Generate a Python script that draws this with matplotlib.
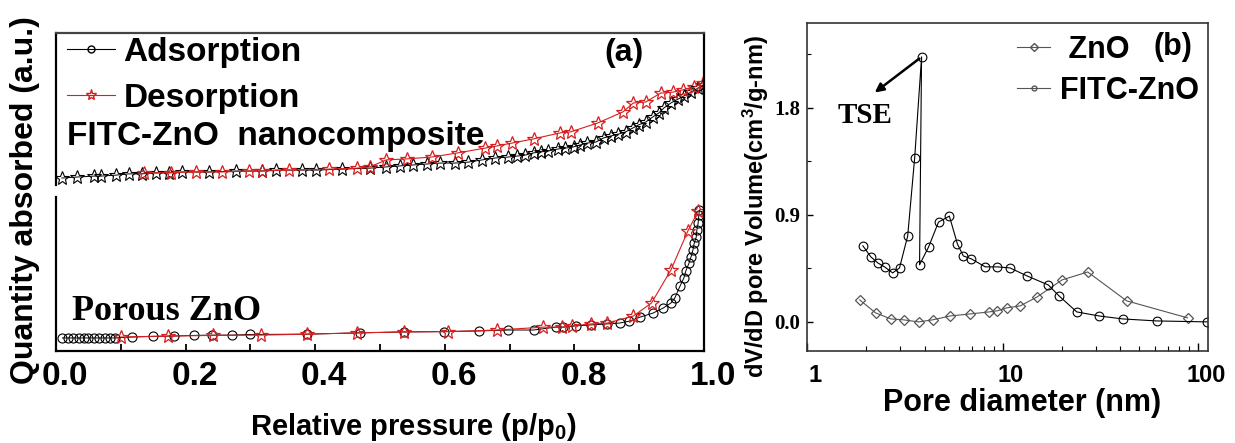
import matplotlib
matplotlib.use('Agg')
import matplotlib.pyplot as plt
from matplotlib.lines import Line2D
import matplotlib.transforms as mtransforms
from matplotlib.ticker import FixedLocator, NullFormatter

plt.rcParams['font.family'] = ['Liberation Sans', 'DejaVu Sans']
plt.rcParams['mathtext.fontset'] = 'custom'
plt.rcParams['mathtext.rm'] = 'Liberation Sans:bold'
plt.rcParams['mathtext.it'] = 'Liberation Sans:bold'
plt.rcParams['mathtext.bf'] = 'Liberation Sans:bold'

# ---------------- panel (a) data: isotherms (a.u.) ----------------
zno_ads_x = [0.010, 0.018, 0.027, 0.035, 0.043, 0.050, 0.058, 0.066, 0.075, 0.083, 0.091,
             0.117, 0.150, 0.182, 0.213, 0.241, 0.272, 0.300, 0.388, 0.469, 0.537, 0.599,
             0.653, 0.698, 0.737, 0.771, 0.783, 0.802, 0.825, 0.850, 0.870, 0.885, 0.902,
             0.921, 0.937, 0.949, 0.955, 0.963, 0.969, 0.972, 0.977, 0.980, 0.983, 0.985,
             0.988, 0.989, 0.991, 0.992, 0.993]
zno_ads_y = [4.1, 4.1, 4.1, 4.1, 4.1, 4.1, 4.1, 4.1, 4.1, 4.1, 4.1,
             4.4, 4.6, 4.7, 4.9, 5.0, 5.0, 5.2, 5.3, 5.7, 6.0, 6.1,
             6.3, 6.6, 6.6, 7.5, 7.5, 7.9, 8.2, 8.5, 8.8, 9.4, 10.7,
             11.9, 13.5, 15.1, 16.7, 20.4, 23.0, 25.2, 27.7, 29.6, 31.8, 34.0,
             35.8, 38.1, 40.3, 42.8, 44.3]
zno_des_x = [0.100, 0.173, 0.242, 0.317, 0.388, 0.464, 0.537, 0.605, 0.681, 0.752,
             0.781, 0.797, 0.825, 0.851, 0.891, 0.919, 0.949, 0.975, 0.991]
zno_des_y = [4.4, 4.7, 4.9, 5.0, 5.3, 5.7, 6.0, 6.1, 6.6, 7.5,
             7.5, 7.9, 8.5, 8.8, 11.0, 15.1, 25.5, 37.7, 44.0]

fitc_ads_x = [0.009, 0.032, 0.058, 0.069, 0.092, 0.112, 0.132, 0.154, 0.174, 0.194,
              0.236, 0.278, 0.318, 0.340, 0.380, 0.402, 0.442, 0.484, 0.510, 0.531,
              0.551, 0.572, 0.593, 0.616, 0.636, 0.658, 0.678, 0.698, 0.712, 0.724,
              0.737, 0.748, 0.760, 0.774, 0.786, 0.799, 0.809, 0.820, 0.833, 0.845,
              0.856, 0.868, 0.879, 0.890, 0.899, 0.910, 0.921, 0.930, 0.938, 0.949,
              0.960, 0.969, 0.980, 0.991, 0.998]
fitc_ads_y = [54.4, 54.7, 55.0, 55.0, 55.3, 55.7, 55.7, 56.0, 56.0, 56.3,
              56.3, 56.6, 56.6, 56.9, 56.9, 56.9, 57.2, 57.5, 57.9, 58.2,
              58.5, 58.8, 59.1, 59.1, 59.4, 60.1, 60.7, 61.0, 61.3, 61.6,
              62.3, 62.6, 62.9, 63.5, 63.8, 64.2, 64.8, 65.4, 65.7, 67.0,
              67.6, 68.2, 68.9, 70.1, 71.1, 72.0, 73.6, 74.8, 76.4, 78.0,
              79.2, 80.2, 81.4, 82.7, 83.6]
fitc_des_x = [0.136, 0.177, 0.216, 0.256, 0.298, 0.318, 0.360, 0.422, 0.464, 0.484,
              0.510, 0.541, 0.580, 0.620, 0.662, 0.681, 0.704, 0.737, 0.778, 0.794,
              0.836, 0.875, 0.891, 0.910, 0.933, 0.952, 0.967, 0.985, 0.998]
fitc_des_y = [56.0, 56.1, 56.3, 56.3, 56.6, 56.6, 56.9, 57.2, 57.5, 57.9,
              60.1, 60.4, 61.0, 62.3, 63.8, 64.5, 65.4, 66.7, 68.6, 68.9,
              71.7, 75.2, 78.0, 78.3, 81.1, 81.4, 82.1, 83.0, 84.3]

a_xticks = [0.0, 0.2, 0.4, 0.6, 0.8, 1.0]
a_xtick_labels = ['0.0', '0.2', '0.4', '0.6', '0.8', '1.0']
a_legend_labels = ['Adsorption', 'Desorption']

# ---------------- panel (b) data: pore size distribution ----------------
b_zno_d = [1.86, 2.24, 2.68, 3.12, 3.72, 4.38, 5.40, 6.84, 8.53, 9.37, 10.5,
           12.3, 15.0, 20.1, 27.2, 43.0, 88.0]
b_zno_v = [0.185, 0.076, 0.025, 0.017, 0.0, 0.017, 0.05, 0.067, 0.084, 0.093, 0.118,
           0.135, 0.21, 0.353, 0.42, 0.177, 0.034]
b_fitc_d = [1.93, 2.12, 2.30, 2.49, 2.74, 2.97, 3.27, 3.55, 3.85, 3.76, 4.18, 4.70,
            5.34, 5.87, 6.29, 6.92, 8.15, 9.37, 10.9, 13.3, 17.1, 19.4, 23.9, 31.0,
            41.0, 61.1, 111.0]
b_fitc_v = [0.64, 0.547, 0.496, 0.463, 0.412, 0.454, 0.723, 1.38, 2.23, 0.48, 0.63, 0.84,
            0.89, 0.656, 0.555, 0.53, 0.463, 0.463, 0.454, 0.387, 0.311, 0.219, 0.084, 0.05,
            0.025, 0.008, 0.0]
b_xticks = [1, 10, 100]
b_xtick_labels = ['1', '10', '100']
b_yticks = [0.0, 0.9, 1.8]
b_ytick_labels = ['0.0', '0.9', '1.8']
b_legend_labels = [' ZnO', 'FITC-ZnO']

W, H = 1235, 443
fig = plt.figure(figsize=(W / 100, H / 100), dpi=100)
axL = fig.add_axes([56 / W, 92 / H, 648 / W, 318 / H])
axR = fig.add_axes([807 / W, 92 / H, 401 / W, 328 / H])

red = '#d81e1e'
# ---------------- panel (a) ----------------
axL.plot(zno_ads_x, zno_ads_y, color='black', lw=0.7, marker='o', ms=6.5,
         mfc='none', mec='black', mew=0.8)
axL.plot(fitc_ads_x, fitc_ads_y, color='black', lw=0.7, marker='*', ms=10,
         mfc='none', mec='black', mew=0.8)
axL.plot(zno_des_x, zno_des_y, color=red, lw=0.8, marker='*', ms=10,
         mfc='none', mec=red, mew=0.9)
axL.plot(fitc_des_x, fitc_des_y, color=red, lw=0.8, marker='*', ms=10,
         mfc='none', mec=red, mew=0.9)

axL.set_xlim(0, 1)
axL.set_ylim(0, 100)
axL.set_yticks([])
axL.set_xticks(a_xticks)
axL.set_xticklabels(a_xtick_labels)
axL.xaxis.set_minor_locator(FixedLocator([0.1, 0.3, 0.5, 0.7, 0.9]))
axL.tick_params(axis='x', which='both', direction='in', length=5, width=1.3,
                labelsize=24, pad=7)
for lbl in axL.get_xticklabels():
    lbl.set_fontweight('bold')
    lbl.set_transform(lbl.get_transform() +
                      mtransforms.ScaledTranslation(0.09, 0, fig.dpi_scale_trans))
for s in ['top', 'right', 'bottom']:
    axL.spines[s].set_linewidth(1.6)
    axL.spines[s].set_color('black')
axL.spines['top'].set_color('#444444')
axL.spines['left'].set_visible(False)
axL.axvline(0, 0, 0.484, color='black', lw=1.6, clip_on=False)
axL.axvline(0, 0.522, 1, color='black', lw=1.6, clip_on=False)

axL.set_xlabel('Relative pressure (p/p$_{\\rm 0}$)', fontsize=21, fontweight='bold')
axL.xaxis.set_label_coords(0.552, -0.19)
axL.xaxis.label.set_va('top')
axL.set_ylabel('Quantity absorbed (a.u.)', fontsize=23, fontweight='bold')
axL.yaxis.set_label_coords(-0.024, 0.475)

axL.text(0.017, 0.648, 'FITC-ZnO  nanocomposite', transform=axL.transAxes,
         fontsize=24, fontweight='bold', va='baseline', ha='left')
axL.text(0.025, 0.097, 'Porous ZnO', transform=axL.transAxes,
         family='Liberation Serif', fontsize=26, fontweight='bold', va='baseline', ha='left')
axL.text(0.846, 0.912, '(a)', transform=axL.transAxes,
         fontsize=23, fontweight='bold', va='baseline', ha='left')

hL = [Line2D([], [], color='black', lw=0.8, marker='o', ms=5, mfc='none', mec='black'),
      Line2D([], [], color=red, lw=0.8, marker='*', ms=8, mfc='none', mec=red)]
axL.legend(hL, a_legend_labels, loc='upper left', bbox_to_anchor=(11 / 648, 1 - 4 / 318),
           frameon=False, prop={'weight': 'bold', 'size': 24}, handlelength=1.45,
           handletextpad=0.25, labelspacing=0.45, borderpad=0, borderaxespad=0)

# ---------------- panel (b) ----------------
grey = '#555555'
axR.plot(b_zno_d, b_zno_v, color=grey, lw=0.8, marker='D', ms=5.4,
         mfc='none', mec=grey, mew=0.9)
axR.plot(b_fitc_d, b_fitc_v, color='black', lw=0.8, marker='o', ms=6.3,
         mfc='none', mec='black', mew=0.8)
axR.set_xscale('log')
axR.set_xlim(1, 112)
axR.set_ylim(-0.245, 2.515)
axR.set_xticks(b_xticks)
axR.set_xticklabels(b_xtick_labels)
axR.xaxis.set_minor_locator(FixedLocator([2, 3, 4, 5, 6, 7, 8, 9,
                                          20, 30, 40, 50, 60, 70, 80, 90]))
axR.xaxis.set_minor_formatter(NullFormatter())
axR.set_yticks(b_yticks)
axR.set_yticklabels(b_ytick_labels)
axR.yaxis.set_minor_locator(FixedLocator([0.45, 1.35, 2.25]))
axR.tick_params(axis='x', which='major', direction='in', length=6, width=1.0,
                labelsize=17, pad=9)
axR.tick_params(axis='x', which='minor', direction='in', length=3.5, width=0.8)
axR.tick_params(axis='y', which='major', direction='in', length=4, width=1.0,
                labelsize=15, pad=5)
axR.tick_params(axis='y', which='minor', direction='in', length=3, width=0.8)
for lbl in axR.get_xticklabels():
    lbl.set_fontweight('bold')
    lbl.set_transform(lbl.get_transform() +
                      mtransforms.ScaledTranslation(0.08, 0, fig.dpi_scale_trans))
for lbl in axR.get_yticklabels():
    lbl.set_fontweight('bold')
    lbl.set_family('Liberation Serif')
for s in axR.spines.values():
    s.set_linewidth(1.2)
    s.set_color('#333333')

axR.set_xlabel('Pore diameter (nm)', fontsize=22, fontweight='bold')
axR.xaxis.set_label_coords(0.536, -0.113)
axR.xaxis.label.set_va('top')
axR.set_ylabel('dV/dD pore Volume(cm$^{\\rm 3}$/g-nm)', fontsize=17, fontweight='bold')
axR.yaxis.set_label_coords(-0.09, 0.442)

ipk = b_fitc_v.index(max(b_fitc_v))
axR.annotate('', xy=(2.22, 1.93), xytext=(b_fitc_d[ipk], b_fitc_v[ipk]),
             arrowprops=dict(arrowstyle='-|>', color='black', lw=1.8,
                             mutation_scale=13, shrinkA=2, shrinkB=0))
axR.text(1.97, 1.74, 'TSE', family='Liberation Serif', fontweight='bold',
         fontsize=21, ha='center', va='center')
axR.text(0.863, 0.902, '(b)', transform=axR.transAxes, fontsize=22,
         fontweight='bold', va='baseline', ha='left')

hR = [Line2D([], [], color=grey, lw=0.8, marker='D', ms=4.2, mfc='none', mec=grey),
      Line2D([], [], color=grey, lw=0.8, marker='o', ms=3.5, mfc='none', mec=grey)]
axR.legend(hR, b_legend_labels, loc='upper left', bbox_to_anchor=(0.524, 0.963),
           frameon=False, prop={'weight': 'bold', 'size': 22}, handlelength=1.08,
           handletextpad=0.33, labelspacing=0.36, borderpad=0, borderaxespad=0)

fig.savefig('out.png', dpi=100)
